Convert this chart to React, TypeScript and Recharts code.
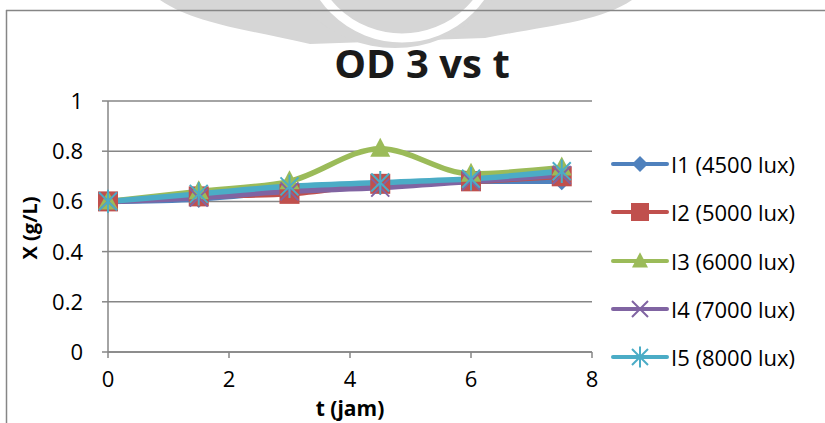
import React from "react";
import {
  LineChart,
  Line,
  XAxis,
  YAxis,
  CartesianGrid,
  Legend,
} from "recharts";

const times = [0, 1.5, 3, 4.5, 6, 7.5];
const i1 = [0.6, 0.61, 0.64, 0.66, 0.68, 0.68];
const i2 = [0.6, 0.62, 0.63, 0.67, 0.68, 0.7];
const i3 = [0.6, 0.64, 0.68, 0.81, 0.71, 0.735];
const i4 = [0.6, 0.615, 0.64, 0.655, 0.68, 0.705];
const i5 = [0.6, 0.63, 0.66, 0.675, 0.69, 0.72];

const xTicks = [0, 2, 4, 6, 8];
const yTicks = [0, 0.2, 0.4, 0.6, 0.8, 1];

const seriesNames = [
  "I1 (4500 lux)",
  "I2 (5000 lux)",
  "I3 (6000 lux)",
  "I4 (7000 lux)",
  "I5 (8000 lux)",
];

const rows = times.map((t, i) => ({
  t,
  i1: i1[i],
  i2: i2[i],
  i3: i3[i],
  i4: i4[i],
  i5: i5[i],
}));

const FONT = "'Open Sans', sans-serif";
const GRID = "#868686";
const TICK_SIZE = 22;

type Shape = "diamond" | "square" | "triangle" | "cross" | "star";

const series: { key: string; color: string; shape: Shape }[] = [
  { key: "i1", color: "#4F81BD", shape: "diamond" },
  { key: "i2", color: "#C0504D", shape: "square" },
  { key: "i3", color: "#9BBB59", shape: "triangle" },
  { key: "i4", color: "#8064A2", shape: "cross" },
  { key: "i5", color: "#4BACC6", shape: "star" },
];

// marker glyph centred at (x, y)
function marker(shape: Shape, color: string, x: number, y: number, s: number) {
  switch (shape) {
    case "diamond":
      return <path d={`M${x} ${y - s}L${x + s} ${y}L${x} ${y + s}L${x - s} ${y}Z`} fill={color} />;
    case "square":
      return <rect x={x - s} y={y - s} width={2 * s} height={2 * s} fill={color} />;
    case "triangle":
      return <path d={`M${x} ${y - s * 1.1}L${x + s} ${y + s * 0.8}L${x - s} ${y + s * 0.8}Z`} fill={color} />;
    case "cross":
      return (
        <path d={`M${x - s} ${y - s}L${x + s} ${y + s}M${x + s} ${y - s}L${x - s} ${y + s}`} stroke={color} strokeWidth={2} />
      );
    default:
      return (
        <path
          d={`M${x - s} ${y - s}L${x + s} ${y + s}M${x + s} ${y - s}L${x - s} ${y + s}M${x} ${y - s * 1.3}L${x} ${y + s * 1.3}`}
          stroke={color}
          strokeWidth={2}
        />
      );
  }
}

const makeDot = (shape: Shape, color: string) => (props: any) => {
  const { cx, cy, index } = props;
  if (cx == null || cy == null) return <g key={index} />;
  const size = shape === "square" || shape === "triangle" ? 10 : 9;
  return <g key={index}>{marker(shape, color, cx, cy, size)}</g>;
};

const XTick = (props: any) => {
  const { x, y, payload } = props;
  return (
    <text x={x} y={y + 27} textAnchor="middle" fontFamily={FONT} fontSize={TICK_SIZE} fill="#000">
      {payload.value}
    </text>
  );
};

const YTick = (props: any) => {
  const { x, y, payload } = props;
  return (
    <text x={x - 17} y={y + 8} textAnchor="end" fontFamily={FONT} fontSize={TICK_SIZE} fill="#000">
      {payload.value}
    </text>
  );
};

const LegendBox = () => (
  <div style={{ width: 215, fontFamily: FONT, fontSize: 22, color: "#000" }}>
    {series.map((s, i) => (
      <div key={s.key} style={{ display: "flex", alignItems: "center", height: 48.3 }}>
        <svg width={60} height={24} style={{ display: "block" }}>
          <line x1={3} y1={12} x2={57} y2={12} stroke={s.color} strokeWidth={4} strokeLinecap="round" />
          {marker(s.shape, s.color, 30, 12, s.shape === "square" ? 9 : 8)}
        </svg>
        <span style={{ marginLeft: 1, whiteSpace: "nowrap" }}>{seriesNames[i]}</span>
      </div>
    ))}
  </div>
);

export default function App() {
  return (
    <div style={{ position: "absolute", left: 0, top: 0, width: 825, height: 423, background: "#fff", overflow: "hidden" }}>
      <svg width={825} height={423} style={{ position: "absolute", left: 0, top: 0 }}>
        {/* watermark behind the chart */}
        <g fill="#d6d6d6">
          <path d="M160 0L632 0C600 22 545 26 485 38L310 44C250 30 195 24 160 0Z" />
          <circle cx={395} cy={-74} r={122} />
        </g>
        <circle cx={402} cy={-58} r={96} fill="none" stroke="#fff" strokeWidth={9} />
        <line x1={6} y1={10.5} x2={825} y2={10.5} stroke={GRID} strokeWidth={1.5} />
        <line x1={6.5} y1={10} x2={6.5} y2={423} stroke={GRID} strokeWidth={1.5} />
        <text x={422} y={78} textAnchor="middle" fontFamily={FONT} fontWeight={700} fontSize={40} fill="#1a1a1a">
          OD 3 vs t
        </text>
        <text x={350} y={416} textAnchor="middle" fontFamily={FONT} fontWeight={700} fontSize={21} fill="#000">
          t (jam)
        </text>
        <text
          transform="translate(37 228) rotate(-90)"
          textAnchor="middle"
          fontFamily={FONT}
          fontWeight={700}
          fontSize={20}
          fill="#000"
        >
          X (g/L)
        </text>
      </svg>
      <div style={{ position: "absolute", left: 0, top: 0 }}>
        <LineChart width={825} height={423} data={rows} margin={{ top: 101, right: 18, bottom: 31, left: 40 }}>
          <CartesianGrid horizontal vertical={false} stroke={GRID} strokeWidth={1.5} />
          <XAxis
            dataKey="t"
            type="number"
            domain={[0, 8]}
            ticks={xTicks}
            height={40}
            stroke={GRID}
            strokeWidth={1.5}
            tickSize={6}
            tick={<XTick />}
          />
          <YAxis
            type="number"
            domain={[0, 1]}
            ticks={yTicks}
            width={68}
            stroke={GRID}
            strokeWidth={1.5}
            tickSize={6}
            tick={<YTick />}
          />
          <Legend
            layout="vertical"
            align="right"
            verticalAlign="top"
            wrapperStyle={{ top: 140, right: 0, left: "auto" }}
            content={() => <LegendBox />}
          />
          {series.map((s, i) => (
            <Line
              key={s.key}
              name={seriesNames[i]}
              dataKey={s.key}
              type="monotone"
              stroke={s.color}
              strokeWidth={5.5}
              dot={makeDot(s.shape, s.color)}
              activeDot={false}
              isAnimationActive={false}
            />
          ))}
        </LineChart>
      </div>
    </div>
  );
}
